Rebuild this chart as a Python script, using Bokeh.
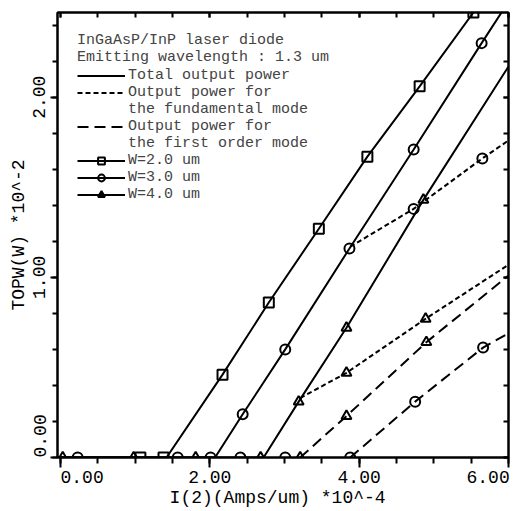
import math
from bokeh.plotting import figure
from bokeh.models import (FixedTicker, LinearAxis, Range1d, Legend, LegendItem,
                          CustomLabelingPolicy)
from bokeh.embed import file_html
from bokeh.resources import INLINE

# ---- data: x = I(2) in 1e-4 A/um, y = TOPW in 1e-2 W ----
# W = 2.0 um, total output power
w2_tot_x = [-0.04, 1.42, 2.17, 2.79, 3.46, 4.11, 4.81, 5.53]
w2_tot_y = [0.0, 0.0, 0.46, 0.86, 1.27, 1.67, 2.06, 2.47]
w2_mk_x = [1.07, 1.38, 2.17, 2.79, 3.46, 4.11, 4.81, 5.53]
w2_mk_y = [0.0, 0.0, 0.46, 0.86, 1.27, 1.67, 2.06, 2.47]

# W = 3.0 um, total / fundamental / first order
w3_tot_x = [-0.04, 2.07, 2.44, 3.01, 3.87, 4.73, 5.64, 6.0]
w3_tot_y = [0.0, 0.0, 0.24, 0.60, 1.16, 1.71, 2.30, 2.53]
w3_tot_mk_x = [0.23, 1.57, 2.01, 2.44, 3.01, 3.87, 4.73, 5.64]
w3_tot_mk_y = [0.0, 0.0, 0.0, 0.24, 0.60, 1.16, 1.71, 2.30]
w3_fun_x = [3.88, 4.73, 5.65, 6.0]
w3_fun_y = [1.17, 1.38, 1.66, 1.76]
w3_fun_mk_x = [4.73, 5.65]
w3_fun_mk_y = [1.38, 1.66]
w3_fst_x = [3.88, 4.75, 5.66, 6.0]
w3_fst_y = [0.0, 0.31, 0.61, 0.69]
w3_fst_mk_x = [2.41, 3.01, 3.88, 4.75, 5.66]
w3_fst_mk_y = [0.0, 0.0, 0.0, 0.31, 0.61]

# W = 4.0 um, total / fundamental / first order
w4_tot_x = [-0.04, 2.72, 3.19, 3.83, 4.86, 6.0]
w4_tot_y = [0.0, 0.0, 0.31, 0.72, 1.43, 2.17]
w4_tot_mk_x = [0.03, 0.98, 1.81, 2.68, 3.19, 3.83, 4.86]
w4_tot_mk_y = [0.0, 0.0, 0.0, 0.0, 0.31, 0.72, 1.43]
w4_fun_x = [3.21, 3.83, 4.89, 6.0]
w4_fun_y = [0.33, 0.47, 0.77, 1.07]
w4_fun_mk_x = [3.83, 4.89]
w4_fun_mk_y = [0.47, 0.77]
w4_fst_x = [3.21, 3.83, 4.90, 6.0]
w4_fst_y = [0.0, 0.23, 0.64, 1.01]
w4_fst_mk_x = [3.21, 3.83, 4.90]
w4_fst_mk_y = [0.0, 0.23, 0.64]

x_major = [0, 2, 4, 6]
x_minor = [i * 0.5 for i in range(13)]
y_major = [0, 1, 2]
y_minor = [i * 0.2 for i in range(13)]
x_tick_labels = ["0.00", "2.00", "4.00", "6.00"]
y_tick_labels = ["0.00", "1.00", "2.00"]

FONT = "Liberation Mono"
NB = "\u00a0"
SOLID = "solid"
SHORT = "5 3"
LONG = "11 6"
LW = 2

p = figure(
    output_backend="svg", toolbar_location=None,
    frame_width=451, frame_height=445,
    min_border_left=57, min_border_right=12, min_border_top=12, min_border_bottom=53,
    x_range=Range1d(-0.04, 6.0), y_range=Range1d(0.0, 2.47),
)
p.background_fill_color = "white"
p.border_fill_color = "white"
p.outline_line_color = "black"
p.outline_line_width = 2
p.xgrid.visible = False
p.ygrid.visible = False

xt = FixedTicker(ticks=x_major, minor_ticks=x_minor)
yt = FixedTicker(ticks=y_major, minor_ticks=y_minor)

hide_labels = CustomLabelingPolicy(code="""
    const n = indices.size;
    for (let i = 0; i < n; i++) {
        if (typeof indices.unset === "function") indices.unset(i);
        else indices.set(i, false);
    }
    return indices;
""")

def style_axis(ax, ticker, tin, tout, mtin, mtout):
    ax.ticker = ticker
    ax.axis_line_color = "black"
    ax.axis_line_width = 2
    ax.major_tick_line_color = "black"
    ax.minor_tick_line_color = "black"
    ax.major_tick_line_width = 2
    ax.minor_tick_line_width = 2
    ax.major_tick_in = tin
    ax.major_tick_out = tout
    ax.minor_tick_in = mtin
    ax.minor_tick_out = mtout
    ax.major_label_text_font = FONT
    ax.major_label_text_font_size = "18px"
    ax.major_label_text_color = "black"
    ax.axis_label_text_font = FONT
    ax.axis_label_text_font_size = "18px"
    ax.axis_label_text_font_style = "normal"
    ax.axis_label_text_color = "black"

xa = p.xaxis[0]
style_axis(xa, xt, 0, 10, 0, 6)
xa.major_label_overrides = {
    x_major[0]: NB * 4 + x_tick_labels[0],
    x_major[1]: x_tick_labels[1],
    x_major[2]: x_tick_labels[2],
    x_major[3]: x_tick_labels[3] + NB,
}
xa.major_label_standoff = 0
xa.axis_label = "I(2)(Amps/um)  *10^-4"
xa.axis_label_standoff = -3

ya = p.yaxis[0]
style_axis(ya, yt, 0, 7, 0, 5)
ya.major_label_orientation = "vertical"
ya.major_label_overrides = {
    y_major[0]: NB * 4 + y_tick_labels[0],
    y_major[1]: y_tick_labels[1],
    y_major[2]: y_tick_labels[2],
}
ya.major_label_standoff = 0
ya.axis_label = "TOPW(W) *10^-2"
ya.axis_label_standoff = -1

top = LinearAxis()
style_axis(top, xt, 5, 0, 5, 0)
top.major_label_text_font_size = "1px"
top.major_label_policy = hide_labels
right = LinearAxis()
style_axis(right, yt, 5, 0, 5, 0)
right.major_label_text_font_size = "1px"
right.major_label_policy = hide_labels
p.add_layout(top, "above")
p.add_layout(right, "right")

def curve(x, y, dash):
    return p.line(x, y, line_color="black", line_width=LW, line_dash=dash)

def marks(x, y, marker):
    return p.scatter(x, y, marker=marker, size=10, line_color="black",
                     line_width=2, fill_alpha=0)

r_w2 = curve(w2_tot_x, w2_tot_y, SOLID)
m_w2 = marks(w2_mk_x, w2_mk_y, "square")
r_w3 = curve(w3_tot_x, w3_tot_y, SOLID)
m_w3 = marks(w3_tot_mk_x, w3_tot_mk_y, "circle")
r_w3f = curve(w3_fun_x, w3_fun_y, SHORT)
marks(w3_fun_mk_x, w3_fun_mk_y, "circle")
r_w3s = curve(w3_fst_x, w3_fst_y, LONG)
marks(w3_fst_mk_x, w3_fst_mk_y, "circle")
r_w4 = curve(w4_tot_x, w4_tot_y, SOLID)
m_w4 = marks(w4_tot_mk_x, w4_tot_mk_y, "triangle")
r_w4f = curve(w4_fun_x, w4_fun_y, SHORT)
marks(w4_fun_mk_x, w4_fun_mk_y, "triangle")
r_w4s = curve(w4_fst_x, w4_fst_y, LONG)
marks(w4_fst_mk_x, w4_fst_mk_y, "triangle")

legend = Legend(
    items=[
        LegendItem(label="Total output power", renderers=[r_w2]),
        LegendItem(label="Output power for", renderers=[r_w4f]),
        LegendItem(label="the fundamental mode", renderers=[]),
        LegendItem(label="Output power for", renderers=[r_w4s]),
        LegendItem(label="the first order mode", renderers=[]),
        LegendItem(label="W=2.0 um", renderers=[r_w2, m_w2]),
        LegendItem(label="W=3.0 um", renderers=[r_w3, m_w3]),
        LegendItem(label="W=4.0 um", renderers=[r_w4, m_w4]),
    ],
    title="InGaAsP/InP laser diode\nEmitting wavelength : 1.3 um",
    location="top_left",
)
legend.title_text_font = FONT
legend.title_text_font_size = "15px"
legend.title_text_font_style = "normal"
legend.title_text_line_height = 1.15
legend.title_standoff = 1
legend.label_text_font = FONT
legend.label_text_font_size = "15px"
legend.label_standoff = 3
legend.glyph_width = 48
legend.glyph_height = 17
legend.label_height = 17
legend.spacing = 0
legend.padding = 2
legend.margin = 18
legend.border_line_alpha = 0
legend.background_fill_alpha = 0
p.add_layout(legend, "center")

open("out.html", "w").write(file_html(p, INLINE))
